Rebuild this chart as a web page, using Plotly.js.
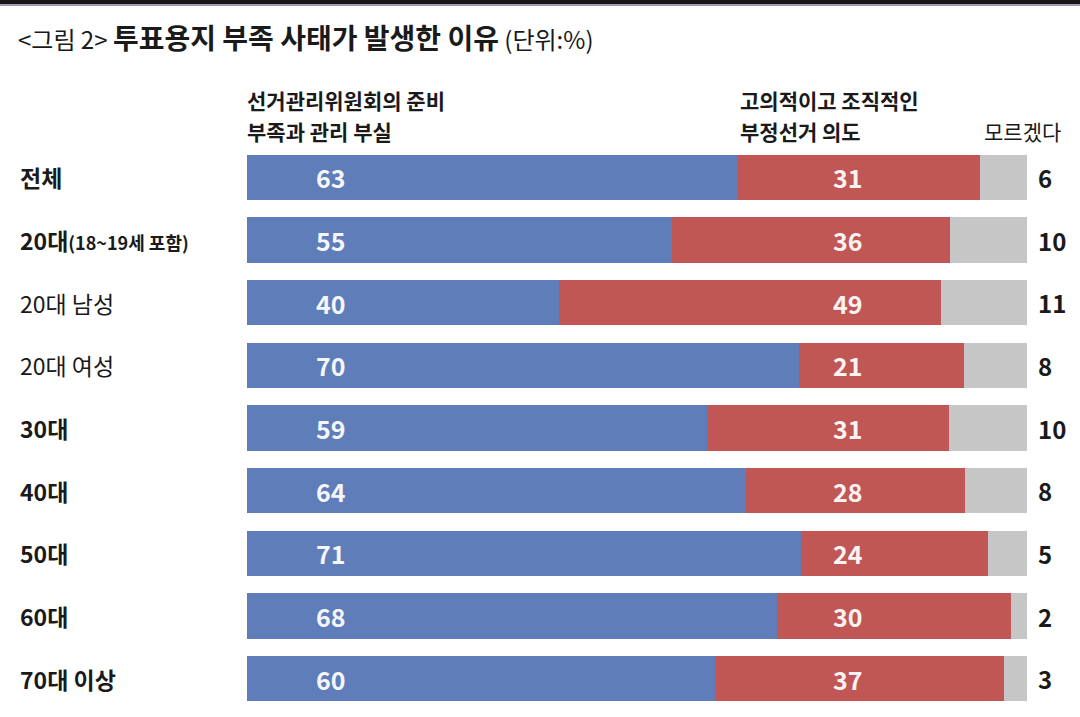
<!DOCTYPE html>
<html>
<head>
<meta charset="utf-8">
<script src="https://cdn.plot.ly/plotly-3.0.1.min.js"></script>
<style>
  html, body { margin: 0; padding: 0; background: #fff; }
  #chart { width: 1080px; height: 717px; }
</style>
</head>
<body>
<div id="chart"></div>
<script>
// Survey groups (rows, top to bottom)
const groups = ['전체', '20대(18~19세 포함)', '20대 남성', '20대 여성', '30대', '40대', '50대', '60대', '70대 이상'];
// Rows whose label is set in bold
const boldGroups = ['전체', '20대(18~19세 포함)', '30대', '40대', '50대', '60대', '70대 이상'];

// Responses (%)
const mgmtFailure = [63, 55, 40, 70, 59, 64, 71, 68, 60];   // 선거관리위원회의 준비 부족과 관리 부실
const fraudIntent = [31, 36, 49, 21, 31, 28, 24, 30, 37];   // 고의적이고 조직적인 부정선거 의도
const dontKnow    = [6, 10, 11, 8, 10, 8, 5, 2, 3];         // 모르겠다

const seriesNames = ['선거관리위원회의 준비 부족과 관리 부실', '고의적이고 조직적인 부정선거 의도', '모르겠다'];

const FONT = '"Noto Sans CJK KR", "Noto Sans", sans-serif';
const BLUE = '#5f7db8';
const RED = '#c05755';
const GREY = '#c6c6c6';

// plot area geometry (px)
const L = 247, W = 780, T = 146, H = 564;
const px2x = p => (p - L) / W;
const py2y = p => (T + H - p) / H;

function bar(vals, color, name) {
  return {
    type: 'bar', orientation: 'h', name: name,
    x: vals, y: groups,
    marker: { color: color, line: { width: 0 } },
    hoverinfo: 'skip', showlegend: false
  };
}

const traces = [
  bar(mgmtFailure, BLUE, seriesNames[0]),
  bar(fraudIntent, RED, seriesNames[1]),
  bar(dontKnow, GREY, seriesNames[2])
];

const annotations = [];

// row labels and values
groups.forEach((g, i) => {
  let txt = g;
  const m = g.match(/^(\S+?)(\(.*\))$/);
  if (m) txt = m[1] + '<span style="font-size:18px">' + m[2] + '</span>';
  if (boldGroups.includes(g)) txt = '<b>' + txt + '</b>';
  annotations.push({
    xref: 'paper', yref: 'y', x: px2x(18), y: g,
    xanchor: 'left', yanchor: 'middle', showarrow: false,
    text: txt, font: { family: FONT, size: 23, color: '#1a1a1a' }
  });
  annotations.push({
    xref: 'paper', yref: 'y', x: px2x(331), y: g,
    xanchor: 'center', yanchor: 'middle', showarrow: false,
    text: '<b>' + mgmtFailure[i] + '</b>', font: { family: FONT, size: 25, color: '#f4f6fb' }
  });
  annotations.push({
    xref: 'paper', yref: 'y', x: px2x(848), y: g,
    xanchor: 'center', yanchor: 'middle', showarrow: false,
    text: '<b>' + fraudIntent[i] + '</b>', font: { family: FONT, size: 25, color: '#fbf3f3' }
  });
  annotations.push({
    xref: 'paper', yref: 'y', x: px2x(1036), y: g,
    xanchor: 'left', yanchor: 'middle', showarrow: false,
    text: '<b>' + dontKnow[i] + '</b>', font: { family: FONT, size: 24, color: '#1a1a1a' }
  });
});

// column headers
const hdr = (text, xpx, ypx, bold) => ({
  xref: 'paper', yref: 'paper', x: px2x(xpx), y: py2y(ypx),
  xanchor: 'left', yanchor: 'middle', showarrow: false,
  text: bold ? '<b>' + text + '</b>' : text,
  font: { family: FONT, size: 21, color: '#1a1a1a' }
});
annotations.push(hdr('선거관리위원회의 준비', 245, 100, true));
annotations.push(hdr('부족과 관리 부실', 245, 131, true));
annotations.push(hdr('고의적이고 조직적인', 738, 100, true));
annotations.push(hdr('부정선거 의도', 738, 131, true));
annotations.push(hdr('모르겠다', 982, 131, false));

// chart title
annotations.push({
  xref: 'paper', yref: 'paper', x: px2x(16), y: py2y(37),
  xanchor: 'left', yanchor: 'middle', showarrow: false,
  text: '&lt;그림 2&gt; <span style="font-size:28px"><b>투표용지 부족 사태가 발생한 이유</b></span> (단위:%)',
  font: { family: FONT, size: 24, color: '#1a1a1a' }
});

const layout = {
  width: 1080, height: 717,
  margin: { l: L, r: 1080 - L - W, t: T, b: 717 - T - H, pad: 0 },
  paper_bgcolor: '#ffffff', plot_bgcolor: '#ffffff',
  barmode: 'stack', barnorm: 'percent', bargap: 0.28,
  xaxis: { range: [0, 100], visible: false, fixedrange: true },
  yaxis: { type: 'category', range: [groups.length - 0.5, -0.5], visible: false, fixedrange: true },
  font: { family: FONT },
  annotations: annotations,
  shapes: [
    { type: 'rect', xref: 'paper', yref: 'paper', x0: px2x(0), x1: px2x(1080), y0: py2y(4), y1: py2y(0),
      fillcolor: '#1b1517', line: { width: 0 }, layer: 'above' },
    { type: 'rect', xref: 'paper', yref: 'paper', x0: px2x(0), x1: px2x(1080), y0: py2y(6), y1: py2y(4),
      fillcolor: '#9c9cad', line: { width: 0 }, layer: 'above' }
  ]
};

Plotly.newPlot('chart', traces, layout, { displayModeBar: false, staticPlot: true });
</script>
</body>
</html>
